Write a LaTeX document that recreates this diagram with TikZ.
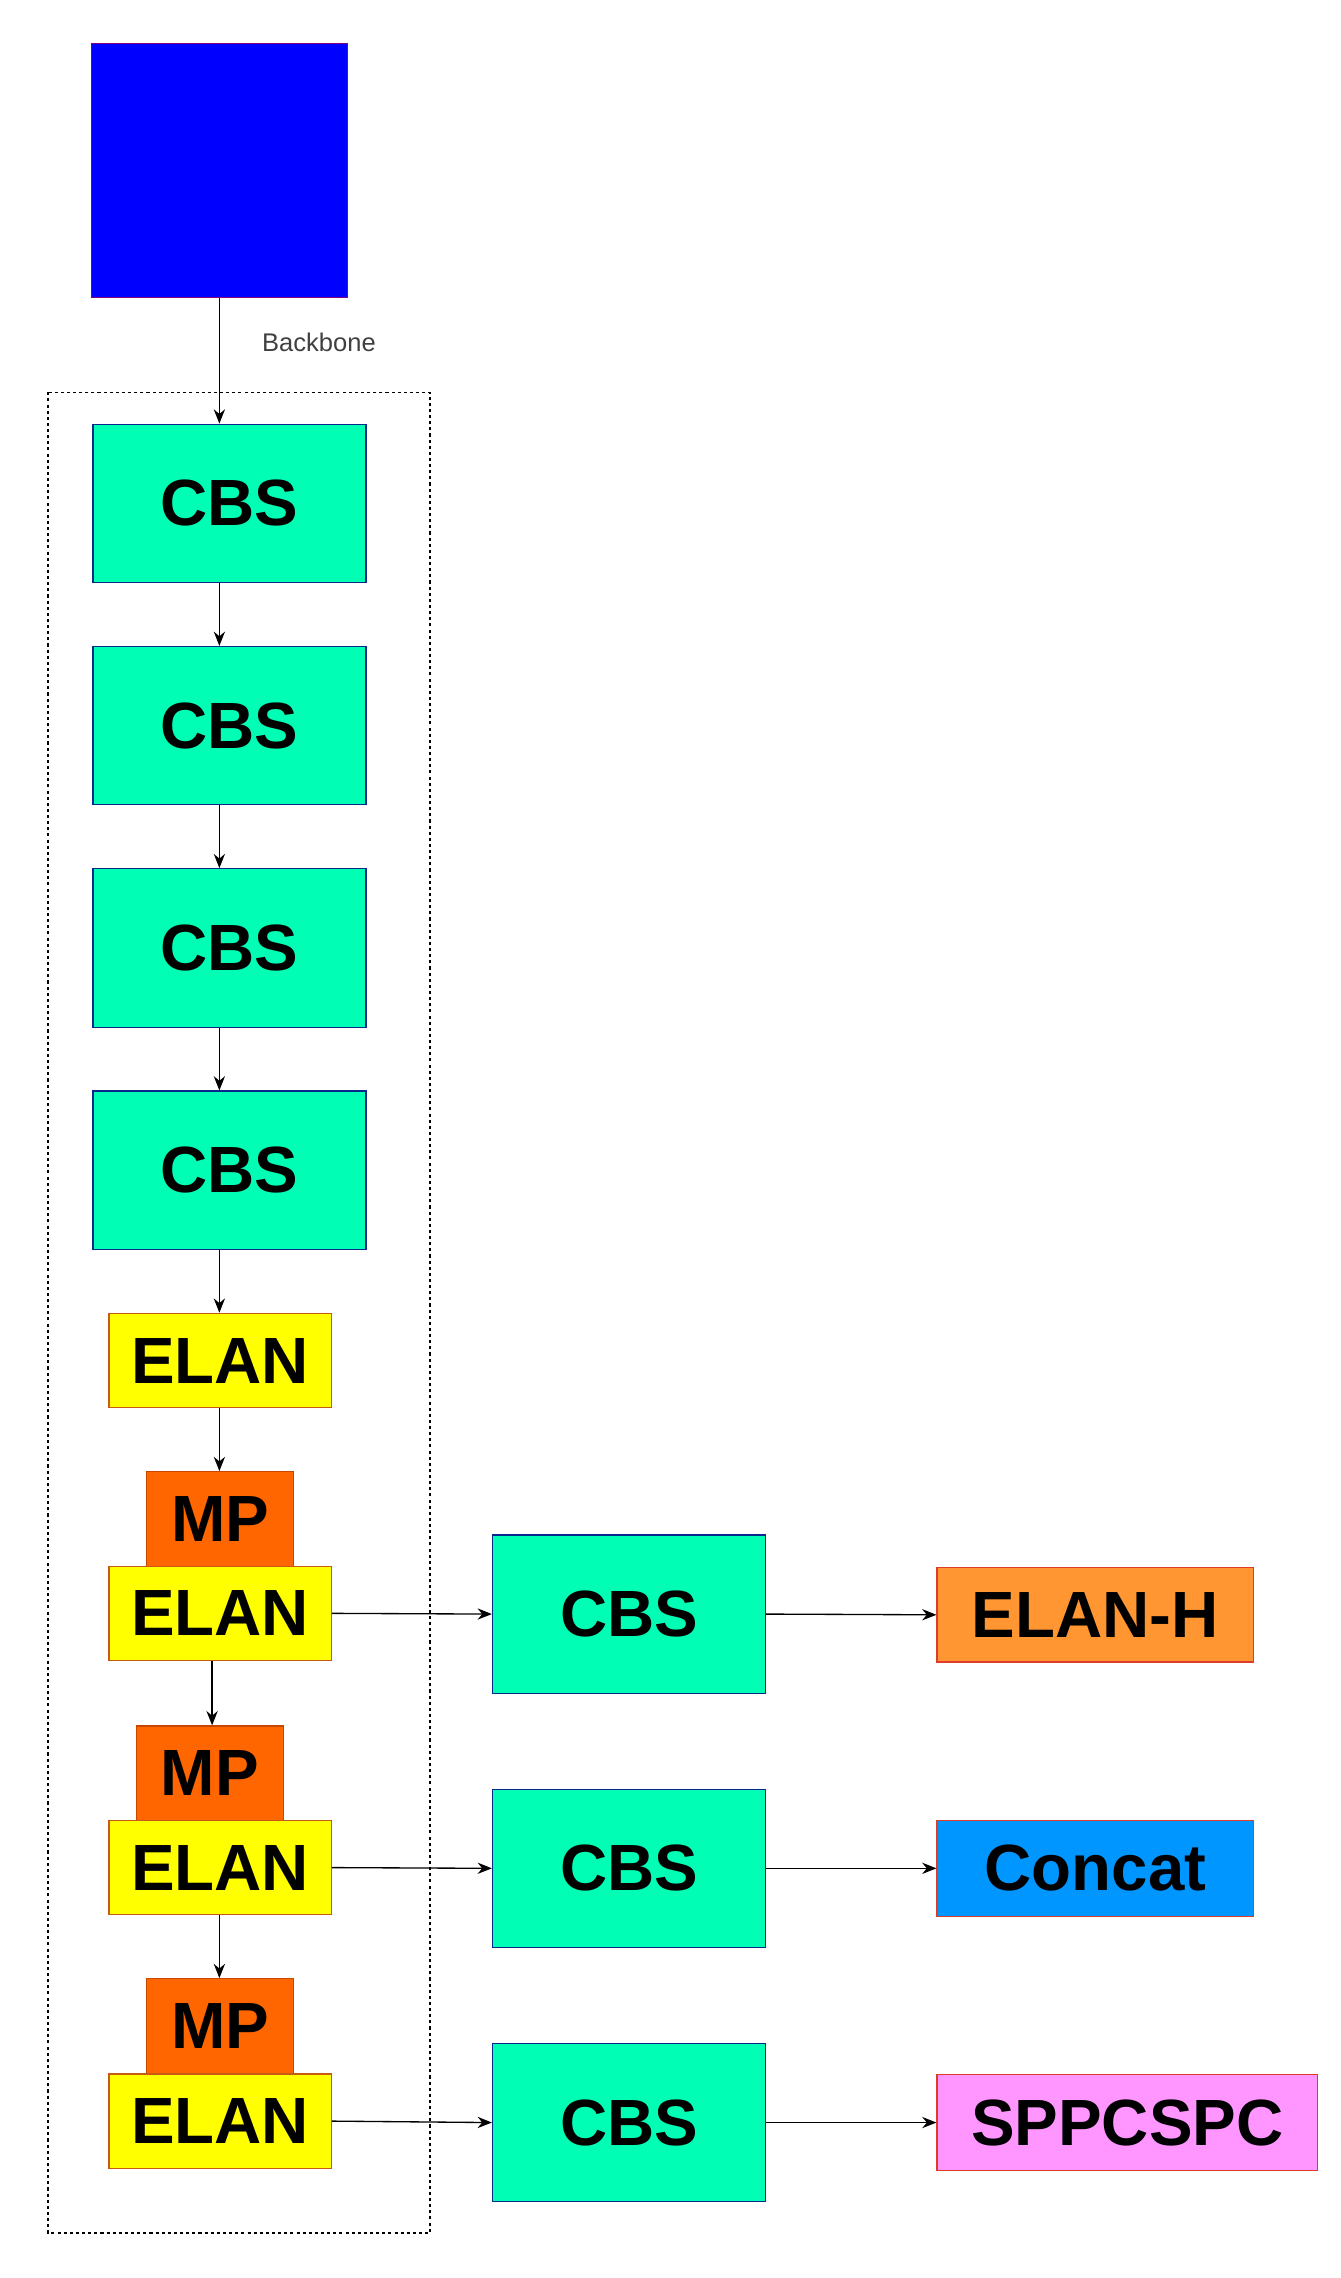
\documentclass[tikz,border=0pt]{standalone}
\usepackage{fontspec}
\setmainfont{Liberation Sans}
\usetikzlibrary{arrows.meta}
\definecolor{cbsfill}{RGB}{0,255,180}
\definecolor{cbsdraw}{RGB}{10,40,140}
\definecolor{elanfill}{RGB}{255,255,0}
\definecolor{elandraw}{RGB}{200,90,20}
\definecolor{mpfill}{RGB}{255,102,0}
\definecolor{mpdraw}{RGB}{200,70,0}
\definecolor{hfill}{RGB}{255,150,50}
\definecolor{cfill}{RGB}{0,150,255}
\definecolor{sfill}{RGB}{255,150,255}
\definecolor{reddraw}{RGB}{220,60,40}
\begin{document}
\begin{tikzpicture}[x=0.05cm,y=-0.05cm,
  box/.style={draw, line width=1.2pt, inner sep=0pt, font=\fontsize{64}{66}\selectfont\bfseries},
  cbs/.style={box, fill=cbsfill, draw=cbsdraw, minimum width=9.4cm, minimum height=5.45cm},
  elan/.style={box, fill=elanfill, draw=elandraw, minimum width=7.65cm, minimum height=3.25cm},
  mp/.style={box, fill=mpfill, draw=mpdraw, minimum width=5.05cm, minimum height=3.25cm},
  arr/.style={-{Stealth[length=14pt,width=11pt]}, line width=1.3pt}]
\useasboundingbox (0,0) rectangle (923,1568);
\node[draw={rgb,255:red,128;green,0;blue,128}, line width=1.2pt, fill={rgb,255:red,0;green,0;blue,255}, minimum width=8.8cm, minimum height=8.75cm, inner sep=0pt] (in) at (151,117.5) {};
\draw[dashed, line width=1.2pt] (33,270) rectangle (296,1537);
\node[cbs] (c1) at (158,346.5) {CBS};
\node[cbs] (c2) at (158,499.5) {CBS};
\node[cbs] (c3) at (158,652.5) {CBS};
\node[cbs] (c4) at (158,805.5) {CBS};
\node[elan] (e1) at (151.5,936.5) {ELAN};
\node[mp] (m1) at (151.5,1045.5) {MP};
\node[elan] (e2) at (151.5,1110.5) {ELAN};
\node[mp] (m2) at (144.5,1220.5) {MP};
\node[elan] (e3) at (151.5,1285.5) {ELAN};
\node[mp] (m3) at (151.5,1394.5) {MP};
\node[elan] (e4) at (151.5,1460) {ELAN};
\node[cbs] (r1) at (433,1111) {CBS};
\node[cbs] (r2) at (433,1286) {CBS};
\node[cbs] (r3) at (433,1461) {CBS};
\node[box, fill=hfill, draw=reddraw, minimum width=10.9cm, minimum height=3.25cm] (t1) at (754,1111.5) {ELAN-H};
\node[box, fill=cfill, draw=reddraw, minimum width=10.9cm, minimum height=3.3cm] (t2) at (754,1286) {Concat};
\node[box, fill=sfill, draw=reddraw, minimum width=13.1cm, minimum height=3.3cm] (t3) at (776,1461) {SPPCSPC};
\node[font=\fontsize{25}{27}\selectfont, text=black!75, anchor=west] (lb) at (178,236) {Backbone};
\draw[arr] (in.south -| 151,0) -- (c1.north -| 151,0);
\draw[arr] (c1.south -| 151,0) -- (c2.north -| 151,0);
\draw[arr] (c2.south -| 151,0) -- (c3.north -| 151,0);
\draw[arr] (c3.south -| 151,0) -- (c4.north -| 151,0);
\draw[arr] (c4.south -| 151,0) -- (e1.north -| 151,0);
\draw[arr] (e1.south -| 151,0) -- (m1.north -| 151,0);
\draw[arr] (e2.south -| 146,0) -- (m2.north -| 146,0);
\draw[arr] (e3.south -| 151,0) -- (m3.north -| 151,0);
\draw[arr] (e2.east) -- (r1.west);
\draw[arr] (e3.east) -- (r2.west);
\draw[arr] (e4.east) -- (r3.west);
\draw[arr] (r1.east) -- (t1.west);
\draw[arr] (r2.east) -- (t2.west);
\draw[arr] (r3.east) -- (t3.west);
\end{tikzpicture}
\end{document}
